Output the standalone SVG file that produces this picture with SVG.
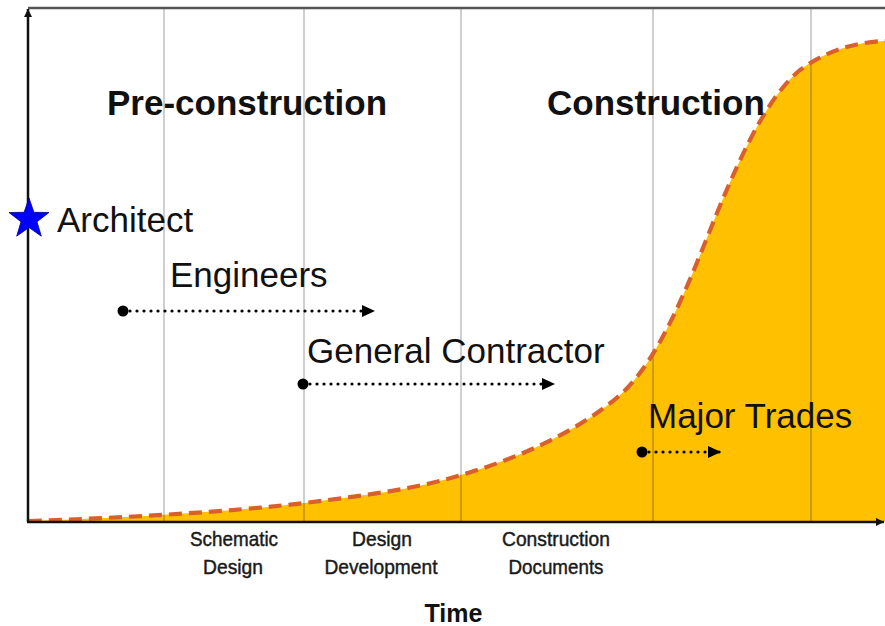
<svg xmlns="http://www.w3.org/2000/svg" width="885" height="626" viewBox="0 0 885 626">
<defs>
<style>
.big{font-family:"Liberation Sans",Arial,sans-serif;font-size:35px;fill:#111}
.bold{font-weight:bold}
.phase{font-family:"Liberation Sans",Arial,sans-serif;font-size:21px;fill:#1a1a1a;text-anchor:middle;stroke:#1a1a1a;stroke-width:0.45}
.grid{stroke:#000;stroke-opacity:0.25;stroke-width:1.5}
.dots{stroke:#000;stroke-width:3.2;stroke-linecap:round;stroke-dasharray:0 7;fill:none}
.axis{stroke:#111;stroke-width:2.5;fill:none}
</style>
<marker id="tri" markerUnits="userSpaceOnUse" markerWidth="16" markerHeight="14" refX="13" refY="7" orient="auto">
<path d="M0,1 L13,7 L0,13 Z" fill="#000"/>
</marker>
<marker id="axarrow" markerUnits="userSpaceOnUse" markerWidth="10" markerHeight="10" refX="8" refY="5" orient="auto">
<path d="M0,1 L8,5 L0,9 Z" fill="#111"/>
</marker>
</defs>
<rect width="885" height="626" fill="#fff"/>
<g id="curve">
<path d="M29,521 C120,518 230,512 304,503 C370,495 420,488 461,475 C520,458 580,430 620,395 C660,360 690,280 717,213 C745,145 770,95 800,70 C830,48 860,42 885,41 L885,522 L29,522 Z" fill="#FFC000"/>
</g>
<g id="grid">
<line class="grid" x1="164" y1="9" x2="164" y2="522"/>
<line class="grid" x1="304" y1="9" x2="304" y2="522"/>
<line class="grid" x1="461" y1="9" x2="461" y2="522"/>
<line class="grid" x1="653" y1="9" x2="653" y2="522"/>
<line class="grid" x1="811" y1="9" x2="811" y2="522"/>
</g>
<g id="curve-line">
<path d="M29,521 C120,518 230,512 304,503 C370,495 420,488 461,475 C520,458 580,430 620,395 C660,360 690,280 717,213 C745,145 770,95 800,70 C830,48 860,42 885,41" fill="none" stroke="#D9602A" stroke-width="4.2" stroke-dasharray="13 7"/>
</g>
<g id="axes">
<line x1="28" y1="8" x2="885" y2="8" stroke="#555" stroke-width="2.5"/>
<line class="axis" x1="28" y1="522" x2="28" y2="9" marker-end="url(#axarrow)"/>
<line class="axis" x1="27" y1="522" x2="884" y2="522" marker-end="url(#axarrow)"/>
</g>
<g id="phases">
<text class="big bold" x="107" y="115">Pre-construction</text>
<text class="big bold" x="547" y="115">Construction</text>
</g>
<g id="architect">
<polygon points="29,198 33.9,212.3 49,212.5 37,221.8 41.3,236.2 29,227.5 16.7,236.2 21,221.8 9,212.5 24.1,212.3" fill="#0000FF" stroke="#00008B" stroke-width="0.8"/>
<text class="big" x="57" y="232">Architect</text>
</g>
<g id="engineers">
<text class="big" x="170" y="287">Engineers</text>
</g>
<g id="general-contractor">
<text class="big" x="307" y="363">General Contractor</text>
</g>
<g id="major-trades">
<text class="big" x="648" y="428">Major Trades</text>
</g>
<g id="connectors">
<circle cx="123" cy="311" r="5.5" fill="#000"/>
<path class="dots" d="M123,311 L375,311" marker-end="url(#tri)"/>
<circle cx="303" cy="384" r="5.5" fill="#000"/>
<path class="dots" d="M303,384 L555,384" marker-end="url(#tri)"/>
<circle cx="642" cy="452" r="5.5" fill="#000"/>
<path class="dots" d="M642,452 L721,452" marker-end="url(#tri)"/>
</g>
<g id="labels">
<text class="phase" x="234" y="546" textLength="88" lengthAdjust="spacingAndGlyphs">Schematic</text>
<text class="phase" x="233" y="574" textLength="60" lengthAdjust="spacingAndGlyphs">Design</text>
<text class="phase" x="382" y="546" textLength="60" lengthAdjust="spacingAndGlyphs">Design</text>
<text class="phase" x="381" y="574" textLength="113" lengthAdjust="spacingAndGlyphs">Development</text>
<text class="phase" x="556" y="546" textLength="108" lengthAdjust="spacingAndGlyphs">Construction</text>
<text class="phase" x="556" y="574" textLength="95" lengthAdjust="spacingAndGlyphs">Documents</text>
<text x="453.5" y="622" font-family="'Liberation Sans',Arial,sans-serif" font-size="25" font-weight="bold" fill="#111" text-anchor="middle">Time</text>
</g>
</svg>
